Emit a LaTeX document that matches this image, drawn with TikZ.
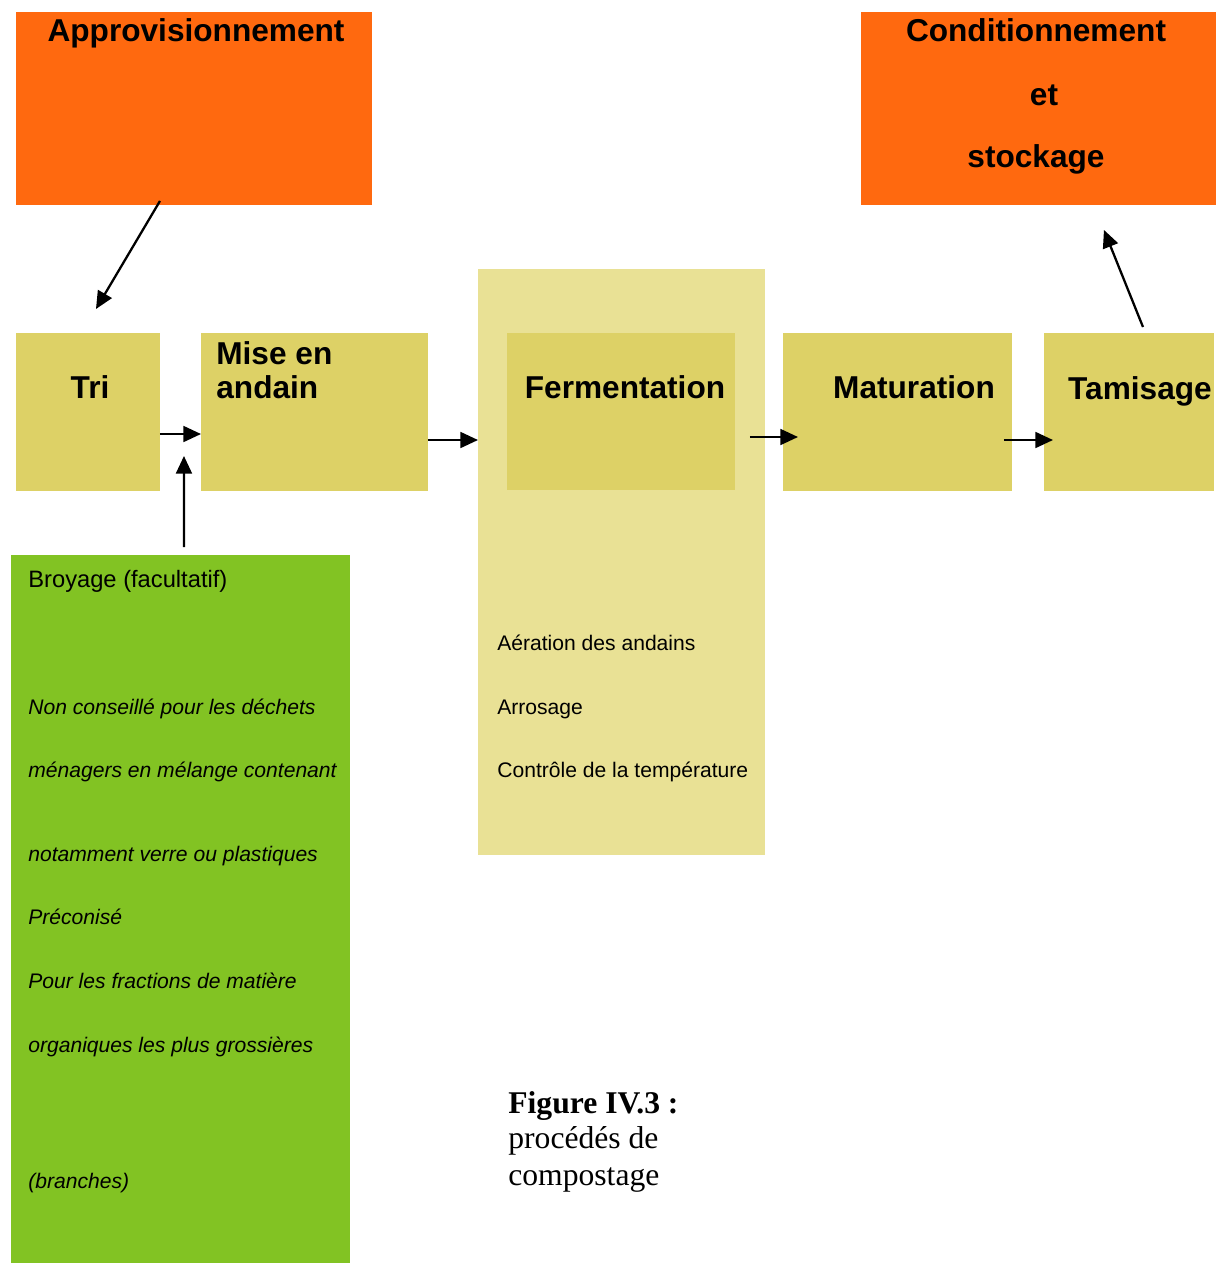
\documentclass[tikz,border=0pt]{standalone}
\usepackage{fontspec}
\setmainfont{Liberation Sans}
\newfontfamily\legendefont{Liberation Serif}
\usepackage{tikz}
\usetikzlibrary{arrows,arrows.meta,positioning,calc}

\definecolor{orangebox}{RGB}{255,105,15}
\definecolor{jaunebox}{RGB}{221,209,102}
\definecolor{jauneclair}{RGB}{233,225,149}
\definecolor{vertbox}{RGB}{130,195,35}

\tikzset{
  bloc/.style={rectangle, inner sep=0pt, outer sep=0pt, anchor=north west},
  titre/.style={font=\fontsize{18}{20}\selectfont\bfseries, inner sep=0pt, anchor=base},
  titreg/.style={titre, anchor=base west},
  note/.style={font=\fontsize{13.5}{15}\selectfont, inner sep=0pt, anchor=base west},
  notei/.style={note, font=\fontsize{12}{14}\selectfont\itshape},
  petit/.style={font=\fontsize{12}{14}\selectfont, inner sep=0pt, anchor=base west},
  legende/.style={font=\fontsize{18}{20}\selectfont\legendefont, inner sep=0pt, anchor=base west},
  fleche/.style={-{Triangle[length=10pt,width=9pt]}, line width=1.3pt},
}

\begin{document}
\begin{tikzpicture}[x=0.02cm, y=-0.02cm]
    \useasboundingbox (0,0) rectangle (1221,1264);
    % Blocs du haut
    \node [bloc, fill=orangebox, minimum width=7.12cm, minimum height=3.86cm] (appro) at (16,12) {};
    \node [bloc, fill=orangebox, minimum width=7.10cm, minimum height=3.86cm] (cond) at (861,12) {};
    % Chaine de traitement
    \node [bloc, fill=jaunebox, minimum width=2.88cm, minimum height=3.16cm] (tri) at (16,333) {};
    \node [bloc, fill=jaunebox, minimum width=4.54cm, minimum height=3.16cm] (mise) at (201,333) {};
    \node [bloc, fill=jauneclair, minimum width=5.74cm, minimum height=11.72cm] (fermfond) at (478,269) {};
    \node [bloc, fill=jaunebox, minimum width=4.56cm, minimum height=3.14cm] (ferm) at (507,333) {};
    \node [bloc, fill=jaunebox, minimum width=4.58cm, minimum height=3.16cm] (matur) at (783,333) {};
    \node [bloc, fill=jaunebox, minimum width=3.40cm, minimum height=3.16cm] (tamis) at (1044,333) {};
    % Broyage
    \node [bloc, fill=vertbox, minimum width=6.78cm, minimum height=14.16cm] (broy) at (11,555) {};

    % Titres
    \node [titre] (tappro) at (196,42) {Approvisionnement};
    \node [titre] (tcond1) at (1036,42) {Conditionnement};
    \node [titre] (tcond2) at (1044,106) {et};
    \node [titre] (tcond3) at (1036,167) {stockage};
    \node [titre] (ttri) at (90,398) {Tri};
    \node [titreg] (tmise1) at (216,364) {Mise en};
    \node [titreg] (tmise2) at (216,398) {andain};
    \node [titre] (tferm) at (625,398) {Fermentation};
    \node [titre] (tmatur) at (914,398) {Maturation};
    \node [titre] (ttamis) at (1140,399) {Tamisage};

    % Textes de la fermentation
    \node [petit] (aer) at (497,650) {Aération des andains};
    \node [petit] (arro) at (497,714) {Arrosage};
    \node [petit] (temp) at (497,777) {Contrôle de la température};

    % Textes du broyage
    \node [note] (tbroy) at (28,587) {Broyage (facultatif)};
    \node [notei] (b1) at (28,714) {Non conseillé pour les déchets};
    \node [notei] (b2) at (28,777) {ménagers en mélange contenant};
    \node [notei] (b3) at (28,861) {notamment verre ou plastiques};
    \node [notei] (b4) at (28,924) {Préconisé};
    \node [notei] (b5) at (28,988) {Pour les fractions de matière};
    \node [notei] (b6) at (28,1052) {organiques les plus grossières};
    \node [notei] (b7) at (28,1188) {(branches)};

    % Legende
    \node [legende, font=\fontsize{18}{20}\selectfont\legendefont\bfseries] (leg1) at (508,1113) {Figure IV.3 :};
    \node [legende] (leg2) at (508,1148) {procédés de};
    \node [legende] (leg3) at (508,1185) {compostage};

    % Fleches
    \coordinate (ligne1) at (0,434);
    \coordinate (ligne2) at (0,440);
    \draw [fleche] ([xshift=2.88cm,yshift=0.08cm]appro.south west) -- ([xshift=1.6cm,yshift=0.48cm]tri.north west);
    \draw [fleche] (tri.east |- ligne1) -- (mise.west |- ligne1);
    \draw [fleche] ([xshift=3.46cm,yshift=0.16cm]broy.north west) -- ([xshift=0.48cm,yshift=0.7cm]tri.south east);
    \draw [fleche] (mise.east |- ligne2) -- (fermfond.west |- ligne2);
    \draw [fleche, shorten <=-0.3cm, shorten >=-0.3cm] (fermfond.east |- 0,437) -- (matur.west |- 0,437);
    \draw [fleche, shorten <=-0.16cm, shorten >=-0.18cm] (matur.east |- ligne2) -- (tamis.west |- ligne2);
    \draw [fleche] ([xshift=1.98cm,yshift=0.12cm]tamis.north west) -- ([xshift=4.86cm,yshift=-0.5cm]cond.south west);
\end{tikzpicture}
\end{document}
